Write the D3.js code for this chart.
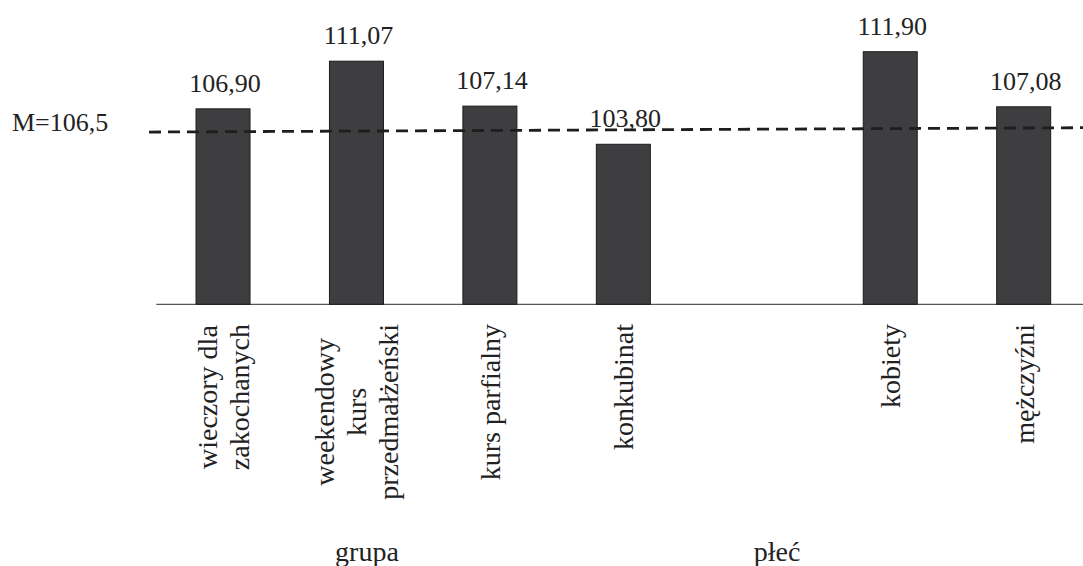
<!DOCTYPE html>
<html>
<head>
<meta charset="utf-8">
<script src="https://cdn.jsdelivr.net/npm/d3@7/dist/d3.min.js"></script>
<style>
  html, body { margin: 0; padding: 0; background: #fff; }
  svg { display: block; }
</style>
</head>
<body>
<svg id="chart" width="1083" height="566"></svg>
<script>
// ---- data ----
const slots = ["wieczory dla zakochanych", "weekendowy kurs przedmałżeński", "kurs parfialny", "konkubinat", "", "kobiety", "mężczyźni"];
const categories = ["wieczory dla zakochanych", "weekendowy kurs przedmałżeński", "kurs parfialny", "konkubinat", "kobiety", "mężczyźni"];
const categoryLines = [["wieczory dla", "zakochanych"], ["weekendowy", "kurs", "przedmałżeński"], ["kurs parfialny"], ["konkubinat"], ["kobiety"], ["mężczyźni"]];
const values = [106.90, 111.07, 107.14, 103.80, 111.90, 107.08];
const valueLabels = ["106,90", "111,07", "107,14", "103,80", "111,90", "107,08"];
const meanLabel = "M=106,5";
const meanLineEnds = [104.87, 105.25]; // drawn position of dashed line
const groupLabels = ["grupa", "płeć"];
const yDomain = [89.8, 111.9];

const FONT = "'Liberation Serif', monospace";

// ---- layout ----
const svg = d3.select("#chart");
const x = d3.scaleBand().domain(slots).range([156.3, 1090.4]).paddingInner(0.5954).paddingOuter(0.2977);
const y = d3.scaleLinear().domain(yDomain).range([304.3, 51.7]);

function addText(parent, str, size) {
  return parent.append("text")
    .attr("font-family", FONT)
    .attr("font-size", size)
    .attr("fill", "#222")
    .text(str);
}

// baseline
svg.append("line")
  .attr("x1", x.range()[0]).attr("x2", 1083)
  .attr("y1", y(yDomain[0])).attr("y2", y(yDomain[0]))
  .attr("stroke", "#555").attr("stroke-width", 1.3);

// bars
svg.selectAll("rect.bar").data(categories).enter().append("rect")
  .attr("class", "bar")
  .attr("x", d => x(d))
  .attr("width", x.bandwidth())
  .attr("y", (d, i) => y(values[i]))
  .attr("height", (d, i) => y(yDomain[0]) - y(values[i]))
  .attr("fill", "#3e3e40")
  .attr("stroke", "#1c1c1c").attr("stroke-width", 1);

// mean dashed line
svg.append("line")
  .attr("x1", 149).attr("x2", 1083)
  .attr("y1", y(meanLineEnds[0])).attr("y2", y(meanLineEnds[1]))
  .attr("stroke", "#1e1e1e").attr("stroke-width", 2.8)
  .attr("stroke-dasharray", "12,7");

// value labels (centred manually)
categories.forEach((c, i) => {
  const t = addText(svg, valueLabels[i], 26);
  const len = t.node().getComputedTextLength();
  t.attr("x", x(c) + x.bandwidth() / 2 + 2 - len / 2)
   .attr("y", y(values[i]) - 17);
});

// mean label
addText(svg, meanLabel, 26).attr("x", 12).attr("y", 131);

// rotated category labels
const lineGap = 32;
const topY = 324;
categories.forEach((c, i) => {
  const lines = categoryLines[i];
  const cx = x(c) + x.bandwidth() / 2 + 10;
  const texts = lines.map(ln => addText(svg, ln, 28));
  const lens = texts.map(t => t.node().getComputedTextLength());
  const maxLen = d3.max(lens);
  const cy = topY + maxLen / 2;
  texts.forEach((t, j) => {
    const bx = cx + (j - (lines.length - 1) / 2) * lineGap;
    t.attr("transform", `translate(${bx},${cy + lens[j] / 2}) rotate(-90)`);
  });
});

// group labels
const groupX = [367, 777];
groupLabels.forEach((g, i) => {
  const t = addText(svg, g, 28);
  const len = t.node().getComputedTextLength();
  t.attr("x", groupX[i] - len / 2).attr("y", 561);
});
</script>
</body>
</html>
